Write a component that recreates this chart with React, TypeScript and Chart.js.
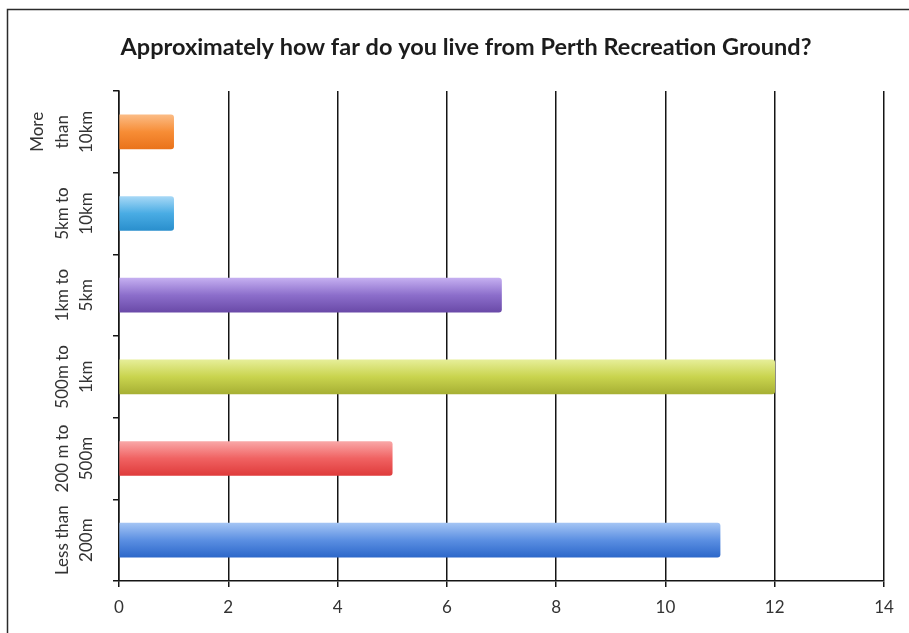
import React, { useEffect, useRef } from "react";
import { Chart, registerables } from "chart.js";

Chart.register(...registerables);

// Distance bands, top to bottom, each split into the lines it is printed on
const categories: string[][] = [
  ["More", "than", "10km"],
  ["5km to", "10km"],
  ["1km to", "5km"],
  ["500m to", "1km"],
  ["200 m to", "500m"],
  ["Less than", "200m"],
];

// Number of respondents in each band
const responses: number[] = [1, 1, 7, 12, 5, 11];

// Value axis range
const xMin = 0;
const xMax = 14;
const xStep = 2;

const titleText = "Approximately how far do you live from Perth Recreation Ground?";

// Bar shading: highlight, body, shadow
const barLight = ["#fbbb84", "#a6d8f6", "#c4aef0", "#e6ee98", "#f9a7a7", "#a3c4f4"];
const barBase = ["#f78d36", "#49ace4", "#8c6ecb", "#c9d44e", "#f06262", "#5b8fe2"];
const barDark = ["#ea731b", "#2a8fcd", "#6a4aa8", "#a7b034", "#df3b3b", "#2d68ca"];

const W = 909;
const H = 633;
const FONT = "Lato, 'Open Sans', 'DejaVu Sans', sans-serif";
const BAR = 34;

export default function App() {
  const ref = useRef<HTMLCanvasElement | null>(null);

  useEffect(() => {
    const canvas = ref.current;
    if (!canvas) return;

    const fillFor = (c: any) => {
      const i = c.dataIndex ?? 0;
      const chart = c.chart;
      const y = chart.scales && chart.scales.y;
      if (c.type !== "data" || !y || !chart.chartArea) return barBase[i];
      const mid = y.getPixelForValue(i);
      if (!Number.isFinite(mid)) return barBase[i];
      const g = chart.ctx.createLinearGradient(0, mid - BAR / 2, 0, mid + BAR / 2);
      g.addColorStop(0, barLight[i]);
      g.addColorStop(0.5, barBase[i]);
      g.addColorStop(1, barDark[i]);
      return g;
    };

    const framePlugin = {
      id: "frame",
      beforeDraw(chart: any) {
        const ctx = chart.ctx;
        ctx.save();
        ctx.fillStyle = "#ffffff";
        ctx.fillRect(0, 0, W, H);
        ctx.strokeStyle = "#2b2b2b";
        ctx.lineWidth = 1.5;
        ctx.beginPath();
        ctx.moveTo(7.5, H);
        ctx.lineTo(7.5, 9.5);
        ctx.lineTo(W, 9.5);
        ctx.stroke();
        ctx.restore();
      },
    };

    const textPlugin = {
      id: "texts",
      afterDraw(chart: any) {
        const ctx = chart.ctx;
        const y = chart.scales.y;
        ctx.save();
        // heading
        ctx.fillStyle = "#1c1c1c";
        ctx.font = `bold 23.5px ${FONT}`;
        ctx.textAlign = "center";
        ctx.textBaseline = "middle";
        ctx.fillText(titleText, 466, 47);
        // rotated band names
        ctx.fillStyle = "#333333";
        ctx.font = `17px ${FONT}`;
        categories.forEach((lines, i) => {
          const yc = y.getPixelForValue(i);
          const n = lines.length;
          lines.forEach((line, j) => {
            const xc = 87 - (n - 1 - j) * 24.5;
            ctx.save();
            ctx.translate(xc, yc);
            ctx.rotate(-Math.PI / 2);
            ctx.fillText(line, 0, 0);
            ctx.restore();
          });
        });
        ctx.restore();
      },
    };

    const chart = new Chart(canvas, {
      type: "bar",
      data: {
        labels: categories,
        datasets: [
          {
            data: responses,
            backgroundColor: fillFor as any,
            borderWidth: 0,
            borderRadius: 3,
            borderSkipped: "start",
            barThickness: BAR,
          },
        ],
      },
      options: {
        indexAxis: "y",
        responsive: false,
        animation: false,
        devicePixelRatio: 1,
        layout: { padding: { top: 91, right: 25, left: 0, bottom: 0 } },
        plugins: {
          legend: { display: false },
          tooltip: { enabled: false },
          title: { display: false },
        },
        scales: {
          x: {
            type: "linear",
            min: xMin,
            max: xMax,
            ticks: {
              stepSize: xStep,
              color: "#333333",
              font: { family: FONT, size: 17 },
              padding: 10,
            },
            grid: { color: "#151515", lineWidth: 1.5, tickLength: 6, drawTicks: true },
            border: { color: "#151515", width: 1.5 },
            afterFit: (s: any) => {
              s.height = H - 581;
            },
          },
          y: {
            type: "category",
            offset: true,
            ticks: { display: false },
            grid: {
              offset: true,
              drawOnChartArea: false,
              drawTicks: true,
              tickLength: 6,
              color: "#151515",
              lineWidth: 1.5,
            },
            border: { color: "#151515", width: 1.5 },
            afterFit: (s: any) => {
              s.width = 119;
            },
          },
        },
      },
      plugins: [framePlugin, textPlugin],
    });

    return () => chart.destroy();
  }, []);

  return (
    <div style={{ position: "absolute", left: 0, top: 0, width: W, height: H }}>
      <canvas ref={ref} width={W} height={H} style={{ display: "block" }} />
    </div>
  );
}
